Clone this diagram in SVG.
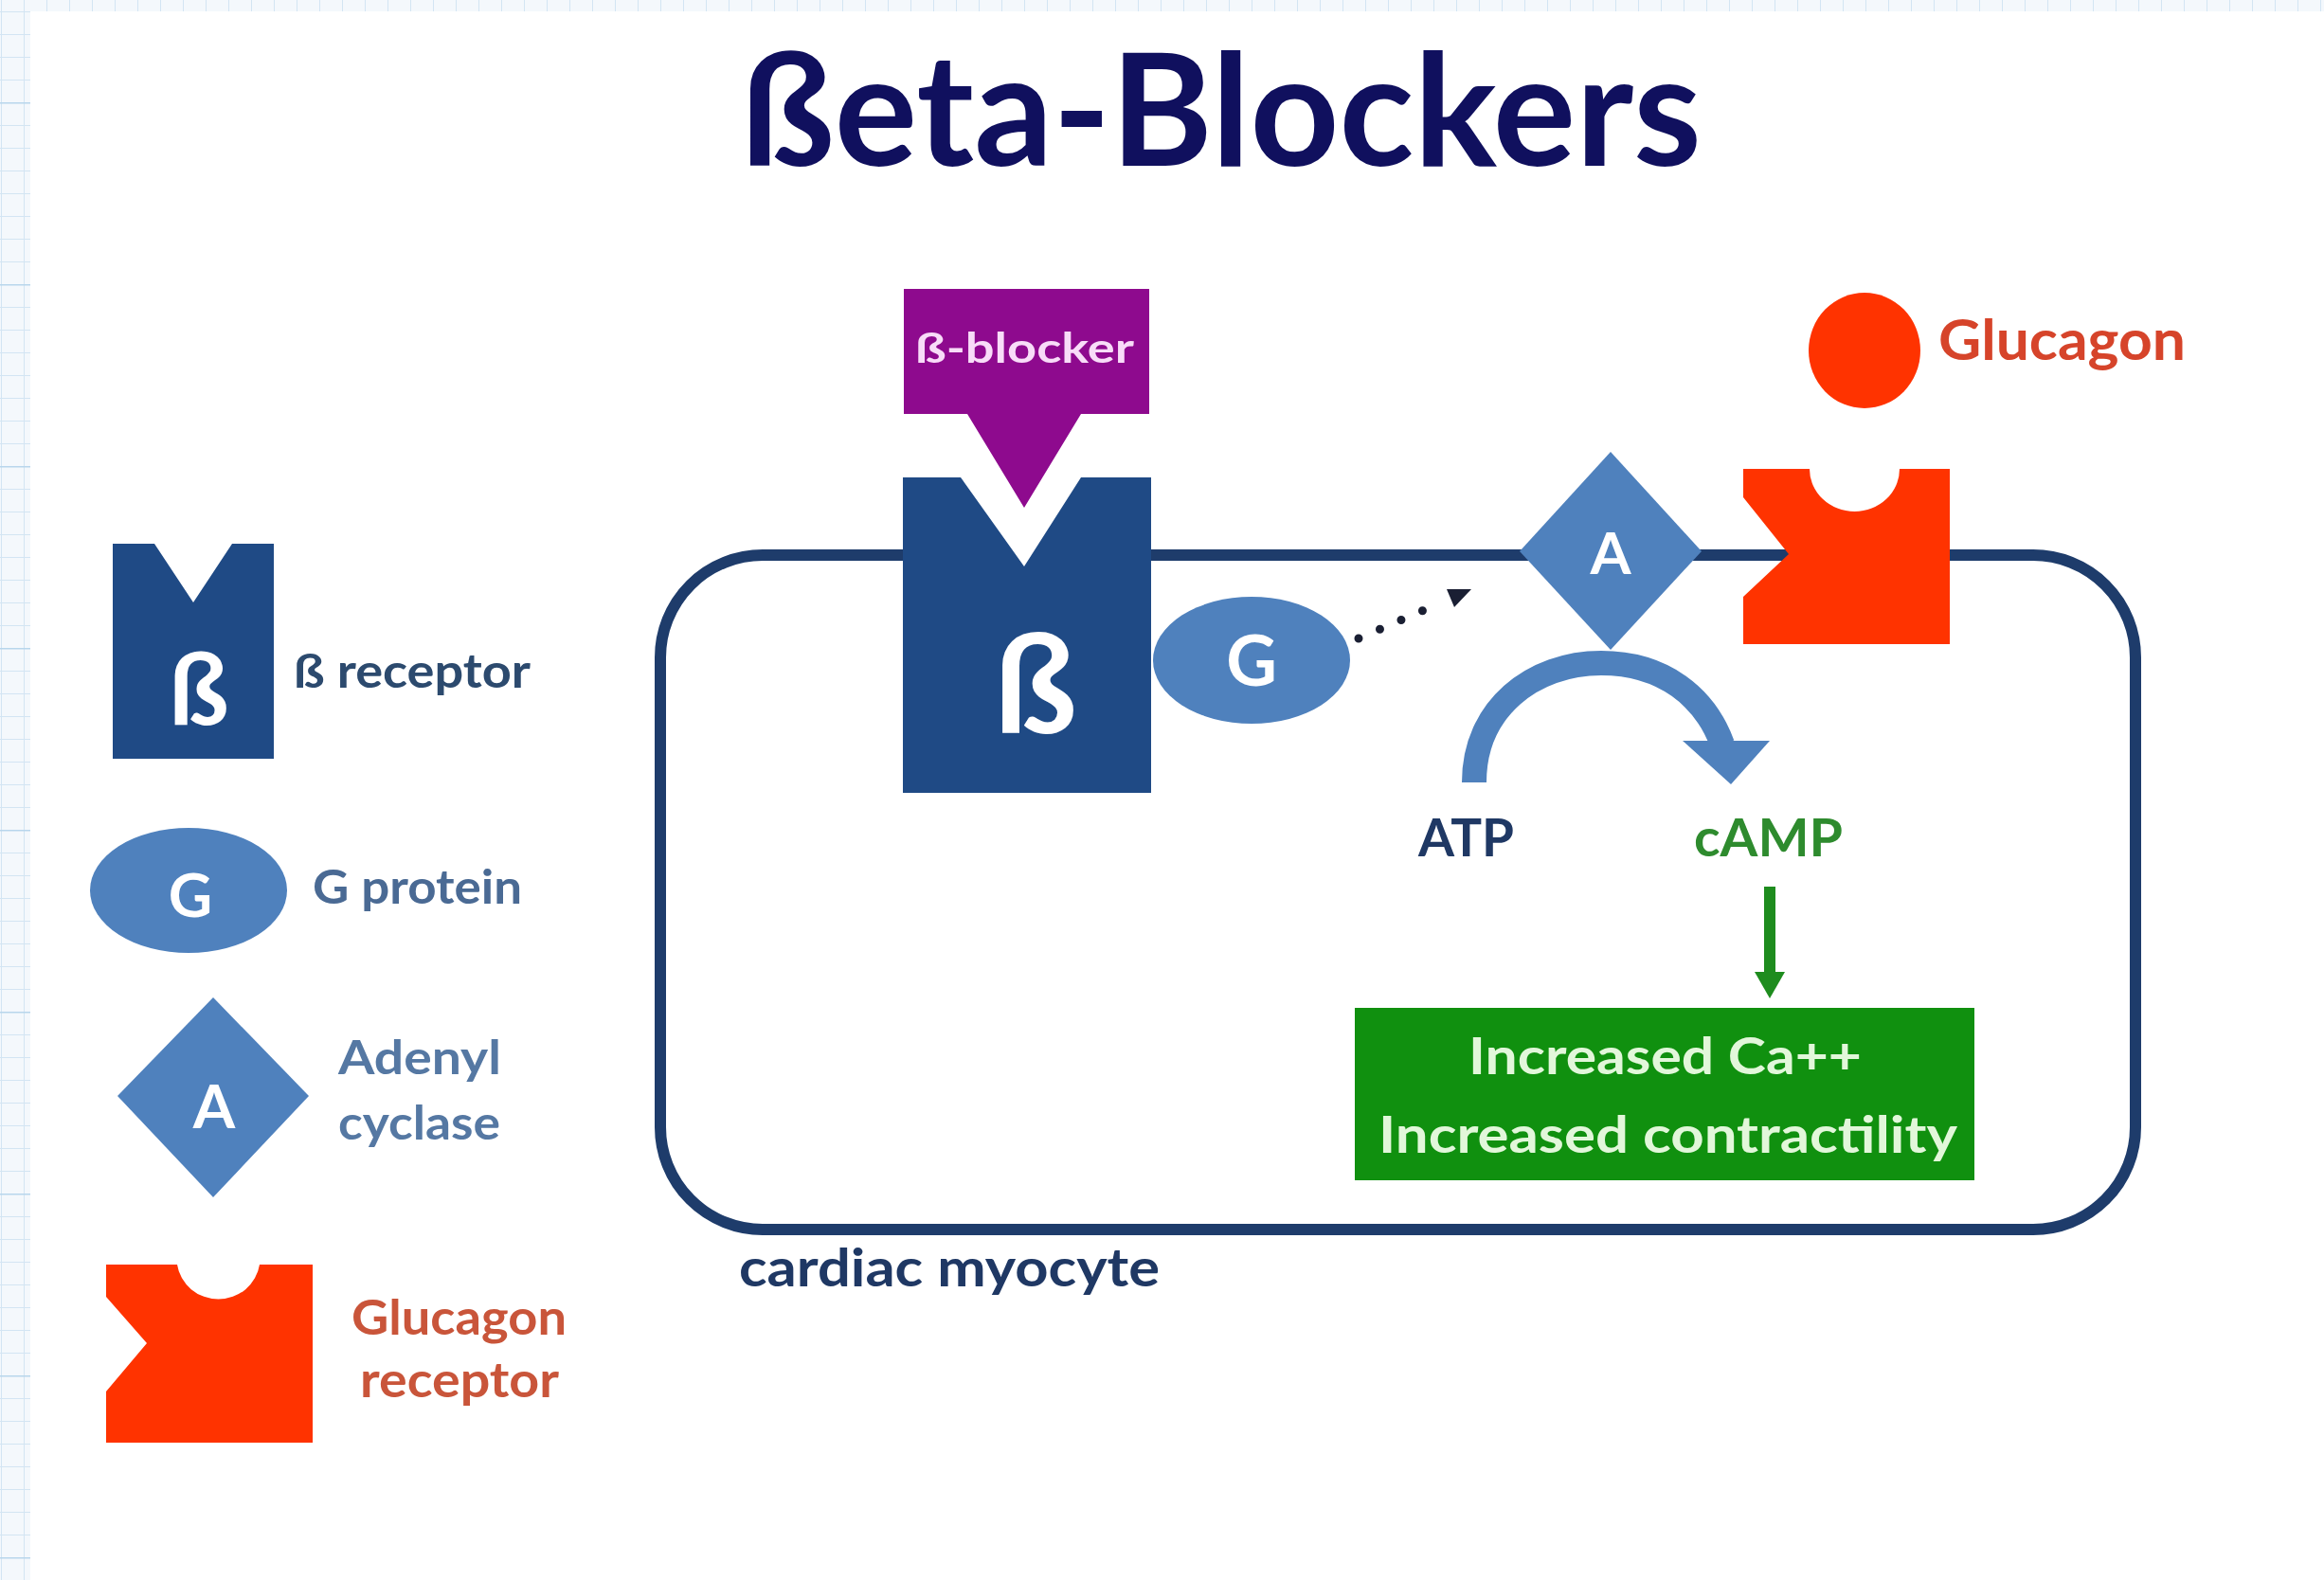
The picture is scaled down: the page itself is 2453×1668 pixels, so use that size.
<svg xmlns="http://www.w3.org/2000/svg" width="2453" height="1668" viewBox="0 0 2453 1668">
  <defs>
    <!-- graph-paper backdrop -->
    <pattern id="gridMinor" x="1" y="12" width="24" height="24" patternUnits="userSpaceOnUse">
      <rect width="24" height="24" fill="#f4f8fc"/>
      <path d="M0 0H24M0 0V24" stroke="#d3e5f3" stroke-width="2" fill="none"/>
    </pattern>
    <pattern id="gridMajor" x="1" y="108" width="192" height="192" patternUnits="userSpaceOnUse">
      <path d="M0 0H192" stroke="#b8d6ec" stroke-width="3" fill="none"/>
    </pattern>
    <marker id="headGreen" markerUnits="userSpaceOnUse" viewBox="0 0 34 34" markerWidth="34" markerHeight="34" refX="2" refY="17" orient="auto">
      <path d="M0,1 L28,17 L0,33 Z" fill="#1e8c1e"/>
    </marker>
    <style>
      .txt { font-family: Lato, "Open Sans", "Liberation Sans", sans-serif; font-weight: 700; }
      .white { fill: #ffffff; }
      .navy { fill: #1f3864; }
      .betaBody { fill: #1f4a85; }
      .blueShape { fill: #4f81bd; }
      .redShape { fill: #ff3300; }
      .legendBlue { fill: #4a6a94; }
      .legendRed { fill: #c9553a; }
    </style>
  </defs>

  <!-- page -->
  <rect width="2453" height="1668" fill="url(#gridMinor)"/>
  <rect width="2453" height="1668" fill="url(#gridMajor)"/>
  <rect x="32" y="12" width="2421" height="1656" fill="#ffffff"/>

  <!-- heading -->
  <text class="txt" x="782" y="175" font-size="165" fill="#10105e" textLength="1014" lengthAdjust="spacingAndGlyphs">ßeta-Blockers</text>

  <!-- cell boundary -->
  <g id="cardiac-myocyte">
    <rect x="697" y="586" width="1557" height="712" rx="108" fill="none" stroke="#1e3c6b" stroke-width="12"/>
    <text class="txt navy" x="780" y="1358" font-size="56" textLength="444" lengthAdjust="spacingAndGlyphs">cardiac myocyte</text>
  </g>

  <!-- connectors -->
  <g id="connectors">
    <!-- G protein activates adenyl cyclase -->
    <line x1="1434" y1="674" x2="1502" y2="644.5" stroke="#1a1f33" stroke-width="9" stroke-linecap="round" stroke-dasharray="0 24.5"/>
    <polygon points="1553,622 1535,641 1527,622" fill="#1a1f33"/>
    <!-- ATP to cAMP -->
    <path d="M1556,826 C1556,748 1618,700 1690,700 C1756,700 1800,736 1818,786" fill="none" stroke="#4f81bd" stroke-width="26"/>
    <polygon points="1776,782 1868,782 1827,828" fill="#4f81bd"/>
    <!-- cAMP to effect -->
    <line x1="1868" y1="936" x2="1868" y2="1028" stroke="#1e8c1e" stroke-width="12" marker-end="url(#headGreen)"/>
  </g>

  <!-- beta receptor in the membrane -->
  <g id="beta-receptor">
    <polygon points="1012,502 1081,600 1143,502" fill="#ffffff"/>
    <polygon class="betaBody" points="953,504 1014,504 1081,598 1141,504 1215,504 1215,837 953,837"/>
    <text class="txt white" x="1093" y="774" font-size="145" text-anchor="middle">ß</text>
  </g>

  <!-- beta blocker docking on the receptor -->
  <g id="beta-blocker">
    <polygon points="954,305 1213,305 1213,437 1141,437 1081,536 1021,437 954,437" fill="#8e0a8e"/>
    <text class="txt" x="966" y="383" font-size="44" fill="#f8dcf8" textLength="231" lengthAdjust="spacingAndGlyphs">ß-blocker</text>
  </g>

  <g id="g-protein">
    <ellipse class="blueShape" cx="1321" cy="697" rx="104" ry="67"/>
    <text class="txt white" x="1321" y="724" font-size="74" text-anchor="middle">G</text>
  </g>

  <g id="adenyl-cyclase">
    <polygon class="blueShape" points="1700,477 1796,582 1700,686 1604,582"/>
    <text class="txt white" x="1700" y="606" font-size="62" text-anchor="middle">A</text>
  </g>

  <g id="glucagon-receptor">
    <path class="redShape" d="M1840,495 L1910,495 A47.5,45 0 0 0 2005,495 L2058,495 L2058,680 L1840,680 L1840,630 L1888,585 L1840,525 Z"/>
  </g>

  <g id="glucagon">
    <ellipse class="redShape" cx="1968" cy="370" rx="59" ry="61"/>
    <text class="txt" x="2046" y="380" font-size="60" fill="#d6442a" textLength="261" lengthAdjust="spacingAndGlyphs">Glucagon</text>
  </g>

  <g id="atp">
    <text class="txt navy" x="1497" y="904" font-size="56" textLength="101" lengthAdjust="spacingAndGlyphs">ATP</text>
  </g>

  <g id="camp">
    <text class="txt" x="1788" y="904" font-size="56" fill="#2e8b2e" textLength="157" lengthAdjust="spacingAndGlyphs">cAMP</text>
  </g>

  <g id="effect">
    <rect x="1430" y="1064" width="654" height="182" fill="#10900f"/>
    <text class="txt" x="1550" y="1134" font-size="54" fill="#e2f7da" textLength="415" lengthAdjust="spacingAndGlyphs">Increased Ca++</text>
    <text class="txt" x="1455" y="1217" font-size="54" fill="#e2f7da" textLength="611" lengthAdjust="spacingAndGlyphs">Increased contractility</text>
  </g>

  <!-- key -->
  <g id="legend-beta-receptor">
    <polygon class="betaBody" points="119,574 163,574 204,636 245,574 289,574 289,801 119,801"/>
    <text class="txt white" x="210" y="765" font-size="105" text-anchor="middle">ß</text>
    <text class="txt" x="310" y="726" font-size="50" fill="#2c4a6e" textLength="250" lengthAdjust="spacingAndGlyphs">ß receptor</text>
  </g>

  <g id="legend-g-protein">
    <ellipse class="blueShape" cx="199" cy="940" rx="104" ry="66"/>
    <text class="txt white" x="201" y="968" font-size="64" text-anchor="middle">G</text>
    <text class="txt legendBlue" x="330" y="954" font-size="50" textLength="221" lengthAdjust="spacingAndGlyphs">G protein</text>
  </g>

  <g id="legend-adenyl-cyclase">
    <polygon class="blueShape" points="225,1053 326,1157 225,1264 124,1157"/>
    <text class="txt white" x="226" y="1191" font-size="64" text-anchor="middle">A</text>
    <text class="txt" x="357" y="1134" font-size="50" fill="#5578a3" textLength="172" lengthAdjust="spacingAndGlyphs">Adenyl</text>
    <text class="txt" x="357" y="1203" font-size="50" fill="#5578a3" textLength="171" lengthAdjust="spacingAndGlyphs">cyclase</text>
  </g>

  <g id="legend-glucagon-receptor">
    <path class="redShape" d="M112,1335 L187,1335 A44,43 0 0 0 274,1335 L330,1335 L330,1523 L112,1523 L112,1469 L155,1418 L112,1369 Z"/>
    <text class="txt legendRed" x="371" y="1409" font-size="52" textLength="227" lengthAdjust="spacingAndGlyphs">Glucagon</text>
    <text class="txt legendRed" x="380" y="1475" font-size="52" textLength="210" lengthAdjust="spacingAndGlyphs">receptor</text>
  </g>
</svg>
